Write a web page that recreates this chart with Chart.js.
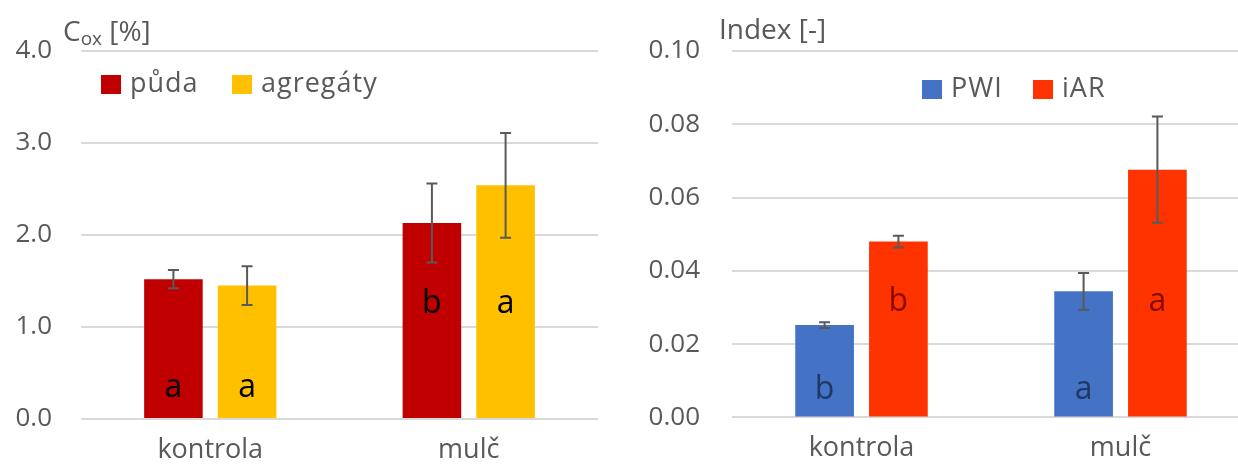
<!DOCTYPE html>
<html>
<head>
<meta charset="utf-8">
<script src="https://cdn.jsdelivr.net/npm/chart.js@4.4.1/dist/chart.umd.min.js"></script>
<style>
  html, body { margin: 0; padding: 0; background: #fff; }
  #wrap { position: relative; width: 1238px; height: 465px; overflow: hidden; }
  .box { position: absolute; top: 0; height: 465px; width: 619px; overflow: hidden; }
  #leftBox { left: 0; }
  #rightBox { left: 619px; }
</style>
</head>
<body>
<div id="wrap">
  <div class="box" id="leftBox"><canvas id="cLeft" width="619" height="465"></canvas></div>
  <div class="box" id="rightBox"><canvas id="cRight" width="660" height="465"></canvas></div>
</div>
<script>
const categories = ['kontrola', 'mulč'];

// left chart - Cox
const pudaValues = [1.52, 2.13];
const pudaErr = [0.10, 0.43];
const pudaLetters = ['a', 'b'];
const agregatyValues = [1.45, 2.54];
const agregatyErr = [0.21, 0.57];
const agregatyLetters = ['a', 'a'];
const leftTicks = ['0.0', '1.0', '2.0', '3.0', '4.0'];

// right chart - indexes
const pwiValues = [0.0252, 0.0344];
const pwiErr = [0.0008, 0.0050];
const pwiLetters = ['b', 'a'];
const iarValues = [0.0480, 0.0676];
const iarErr = [0.0016, 0.0145];
const iarLetters = ['b', 'a'];
const rightTicks = ['0.00', '0.02', '0.04', '0.06', '0.08', '0.10'];

const FONT = '"Open Sans"';
const GREY = '#595959';

// error bars, significance letters, axis title and legend drawn on top of the chart
function extras(cfg) {
  return {
    id: 'extras',
    afterDatasetsDraw(chart) {
      const { ctx } = chart;
      const y = chart.scales.y;
      chart.data.datasets.forEach((ds, di) => {
        const meta = chart.getDatasetMeta(di);
        meta.data.forEach((bar, i) => {
          ctx.save();
          ctx.fillStyle = ds.letterColor;
          ctx.font = '32px ' + FONT;
          ctx.textAlign = 'center';
          ctx.textBaseline = 'alphabetic';
          ctx.fillText(ds.letters[i], bar.x, y.getPixelForValue(cfg.letterAt[di][i]));

          const top = y.getPixelForValue(ds.data[i] + ds.errors[i]);
          const bot = y.getPixelForValue(ds.data[i] - ds.errors[i]);
          ctx.strokeStyle = GREY;
          ctx.lineWidth = 2;
          ctx.beginPath();
          ctx.moveTo(bar.x, top); ctx.lineTo(bar.x, bot);
          ctx.moveTo(bar.x - 5.5, top); ctx.lineTo(bar.x + 5.5, top);
          ctx.moveTo(bar.x - 5.5, bot); ctx.lineTo(bar.x + 5.5, bot);
          ctx.stroke();
          ctx.restore();
        });
      });
    },
    afterDraw(chart) {
      const { ctx, chartArea } = chart;
      ctx.save();
      ctx.fillStyle = GREY;
      ctx.textAlign = 'left';

      // title
      ctx.textBaseline = 'alphabetic';
      let x = cfg.title.x;
      cfg.title.parts.forEach(p => {
        ctx.font = p.size + 'px ' + FONT;
        ctx.fillText(p.text, x, cfg.title.y + (p.shift || 0));
        x += ctx.measureText(p.text).width;
      });

      // legend
      ctx.font = '27px ' + FONT;
      ctx.letterSpacing = '1px';
      ctx.textBaseline = 'middle';
      const ly = chartArea.top + cfg.legend.y;
      chart.data.datasets.forEach((ds, di) => {
        const lx = chartArea.left + cfg.legend.x[di];
        ctx.fillStyle = ds.backgroundColor;
        ctx.fillRect(lx, ly, 20, 19);
        ctx.fillStyle = GREY;
        ctx.fillText(ds.label, lx + 29, ly + 9);
      });
      ctx.restore();
    }
  };
}

function makeChart(id, cfg) {
  return new Chart(document.getElementById(id), {
    type: 'bar',
    data: { labels: categories, datasets: cfg.datasets },
    options: {
      responsive: false,
      animation: false,
      layout: { padding: { left: 0, right: cfg.padRight, top: 51, bottom: 0 } },
      datasets: { bar: { categoryPercentage: 0.57, barPercentage: 0.795, borderWidth: 0 } },
      scales: {
        x: {
          grid: { display: false },
          border: { display: false },
          ticks: { color: GREY, font: { family: FONT, size: 27 }, padding: 7 },
          afterFit: s => { s.height = cfg.xHeight; }
        },
        y: {
          min: 0,
          max: cfg.max,
          border: { display: false },
          grid: { color: '#d9d9d9', lineWidth: 2, drawTicks: false },
          ticks: {
            stepSize: cfg.step,
            color: GREY,
            font: { family: FONT, size: 26 },
            padding: cfg.tickPad,
            callback: (v, i) => cfg.ticks[i]
          },
          afterFit: s => { s.width = cfg.yWidth; }
        }
      },
      plugins: {
        tooltip: { enabled: false },
        legend: { display: false }
      }
    },
    plugins: [extras(cfg)]
  });
}

makeChart('cLeft', {
  datasets: [
    { label: 'půda', data: pudaValues, errors: pudaErr, letters: pudaLetters, backgroundColor: '#c00000', letterColor: '#000000' },
    { label: 'agregáty', data: agregatyValues, errors: agregatyErr, letters: agregatyLetters, backgroundColor: '#ffc000', letterColor: '#000000' }
  ],
  max: 4, step: 1, ticks: leftTicks,
  padRight: 21, yWidth: 81, xHeight: 46, tickPad: 29,
  legend: { x: [20, 151], y: 24 },
  title: { x: 63, y: 41, parts: [{ text: 'C', size: 28 }, { text: 'ox', size: 19, shift: 4 }, { text: ' [%]', size: 28 }] },
  letterAt: [[0.235, 1.15], [0.235, 1.15]]
});

makeChart('cRight', {
  datasets: [
    { label: 'PWI', data: pwiValues, errors: pwiErr, letters: pwiLetters, backgroundColor: '#4472c4', letterColor: '#1f3864' },
    { label: 'iAR', data: iarValues, errors: iarErr, letters: iarLetters, backgroundColor: '#ff3300', letterColor: '#8a0a00' }
  ],
  max: 0.1, step: 0.02, ticks: rightTicks,
  padRight: 29, yWidth: 113, xHeight: 45, tickPad: 32,
  legend: { x: [190, 301], y: 29 },
  title: { x: 100, y: 39, parts: [{ text: 'Index [-]', size: 28 }] },
  letterAt: [[0.005, 0.005], [0.029, 0.029]]
});
</script>
</body>
</html>
